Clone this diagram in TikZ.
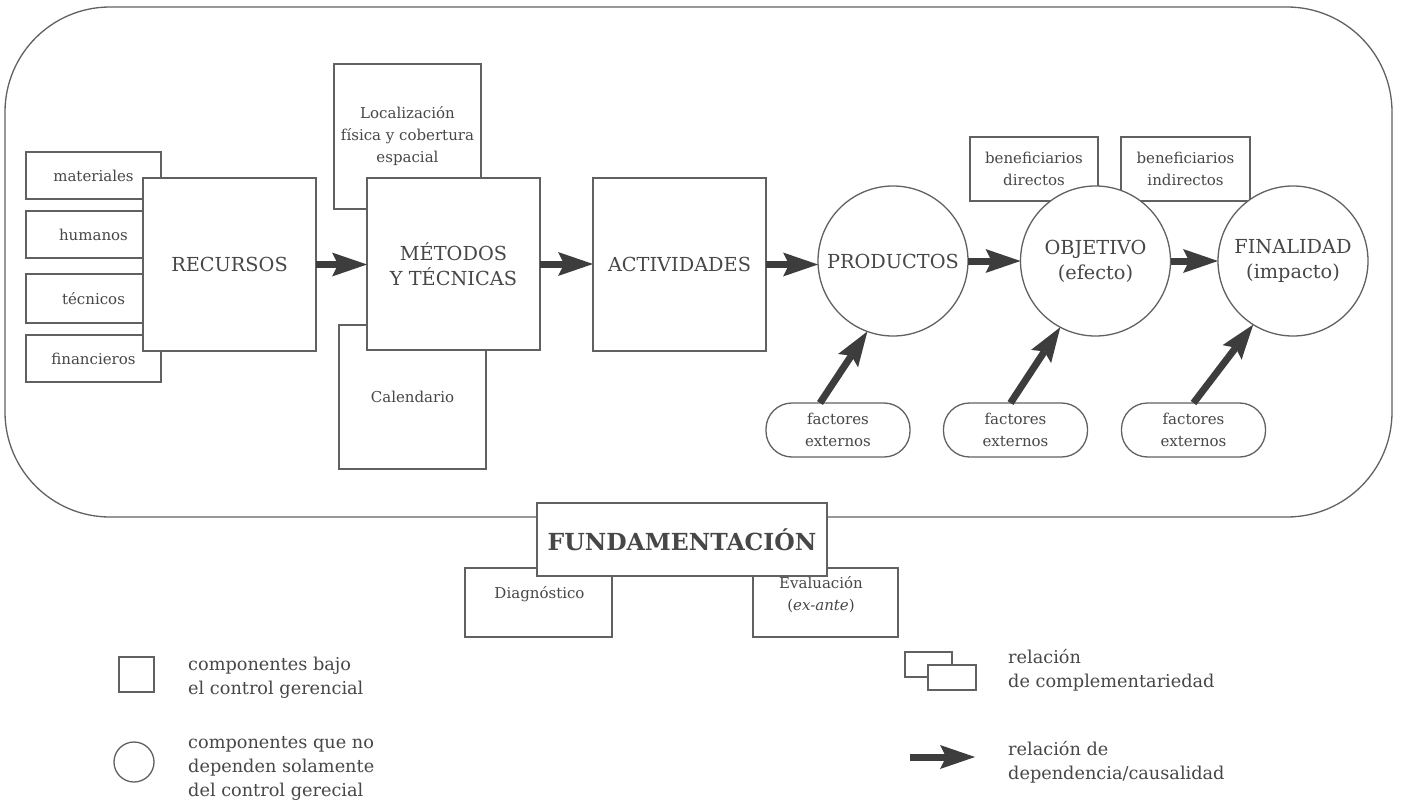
\documentclass[tikz,border=0pt]{standalone}
\usepackage{fontspec}
\setmainfont{DejaVu Serif}
\usetikzlibrary{arrows.meta,calc}
\definecolor{ln}{gray}{0.38}
\definecolor{tx}{gray}{0.28}
\definecolor{ar}{gray}{0.24}
\begin{document}
\begin{tikzpicture}[x=1pt,y=-1pt,
  bx/.style={draw=ln, line width=1.3pt, fill=white, inner sep=0pt, outer sep=0pt, text=tx, align=center},
  big/.style={font=\fontsize{19.3}{25}\selectfont},
  sm/.style={font=\fontsize{15}{22}\selectfont},
  circ/.style={bx, circle, minimum size=150pt, big},
  pill/.style={bx, rounded corners=26pt, minimum width=144pt, minimum height=54pt, sm},
  txt/.style={text=tx, align=center, inner sep=0pt},
  bigarrow/.style={draw=ar, line width=7pt, -{Stealth[length=35pt,width=24pt,inset=6pt,line width=0pt]}},
  lg/.style={text=tx, align=left, anchor=west, inner sep=0pt, font=\fontsize{17.7}{24}\selectfont}]

\path[use as bounding box, fill=white] (0,0) rectangle (1406,808);

% outer frame
\node[draw=ln, line width=1.3pt, rounded corners=105pt, minimum width=1387pt, minimum height=510pt, inner sep=0pt, outer sep=0pt] (frame) at (698.5,262) {};

% resource boxes
\node[bx, sm, minimum width=135pt, minimum height=47pt] (mat) at (93.5,175.5) {materiales};
\node[bx, sm, minimum width=135pt, minimum height=47pt] (hum) at (93.5,234.5) {humanos};
\node[bx, sm, minimum width=135pt, minimum height=49pt] (tec) at (93.5,298.5) {técnicos};
\node[bx, sm, minimum width=135pt, minimum height=47pt] (fin) at (93.5,358.5) {financieros};
\node[bx, big, minimum size=173pt] (rec) at (229.5,264.5) {RECURSOS};

% methods
\node[bx, sm, minimum width=147pt, minimum height=145pt] (loc) at (407.5,136.5) {Localización\\física y cobertura\\espacial};
\node[bx, sm, minimum width=147pt, minimum height=144pt] (cal) at (412.5,397) {Calendario};
\node[bx, big, minimum width=173pt, minimum height=172pt] (met) at (453.5,264) {MÉTODOS\\Y TÉCNICAS};

\node[bx, big, minimum size=173pt] (act) at (679.5,264.5) {ACTIVIDADES};

% beneficiaries
\node[bx, sm, minimum width=128pt, minimum height=64pt] (bd) at (1034,169) {beneficiarios\\directos};
\node[bx, sm, minimum width=129pt, minimum height=64pt] (bi) at (1185.5,169) {beneficiarios\\indirectos};

% circles
\node[circ] (prod) at (893,261) {PRODUCTOS};
\node[circ] (obj) at (1095.5,261) {OBJETIVO\\(efecto)};
\node[circ] (fina) at (1293,261) {FINALIDAD\\(impacto)};

% external factors
\node[pill] (f1) at (838,430) {factores\\externos};
\node[pill] (f2) at (1015.5,430) {factores\\externos};
\node[pill] (f3) at (1193.5,430) {factores\\externos};

% arrows
\draw[bigarrow] (rec.east) -- (rec.east -| met.west);
\draw[bigarrow] (met.east) -- (met.east -| act.west);
\draw[bigarrow] (act.east) -- (act.east -| prod.west);
\draw[bigarrow] (prod) -- (obj);
\draw[bigarrow] (obj) -- (fina);
\draw[bigarrow] ([xshift=-18pt]f1.north) -- (prod.250);
\draw[bigarrow] ([xshift=-5pt]f2.north) -- (obj.242);
\draw[bigarrow] (f3.north) -- (fina.238);

% fundamentacion
\node[bx, minimum width=147pt, minimum height=69pt] (diag) at (538.5,602.5) {};
\node[txt, sm] (diagt) at (539.5,594) {Diagnóstico};
\node[bx, minimum width=145pt, minimum height=69pt] (eval) at (825.5,602.5) {};
\node[txt, sm] (evalt) at (821,595) {Evaluación\\(\textit{ex-ante})};
\node[bx, minimum width=290pt, minimum height=73pt, font=\fontsize{23.5}{27}\selectfont\bfseries] (fund) at (682,539.5) {FUNDAMENTACIÓN};

% legend
\node[bx, minimum size=35pt] (lsq) at (136.5,674.5) {};
\node[lg] (lsqt) at (188,678) {componentes bajo\\el control gerencial};
\node[bx, circle, minimum size=40pt] (lci) at (134,762) {};
\node[lg] (lcit) at (188,768) {componentes que no\\dependen solamente\\del control gerecial};

\node[bx, minimum width=47pt, minimum height=25pt] (lrb) at (928.5,664.5) {};
\node[bx, minimum width=48pt, minimum height=25pt] (lrf) at (952,677.5) {};
\node[lg] (lrt) at (1008,670) {relación\\de complementariedad};
\coordinate (la1) at (910,757);
\coordinate (la2) at (975,757);
\draw[bigarrow] (la1) -- (la2);
\node[lg] (lat) at (1008,762) {relación de\\dependencia/causalidad};
\end{tikzpicture}
\end{document}
